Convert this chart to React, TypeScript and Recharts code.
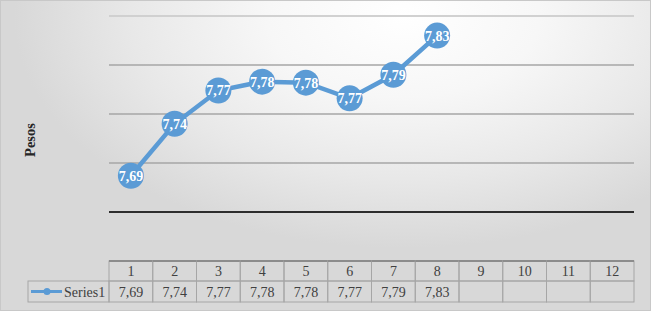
import React from 'react'
import { LineChart, Line, XAxis, YAxis, CartesianGrid, ReferenceLine, LabelList } from 'recharts'

const categories = ['1', '2', '3', '4', '5', '6', '7', '8', '9', '10', '11', '12']
const pesos = [7.687, 7.74, 7.774, 7.783, 7.782, 7.766, 7.79, 7.83]
const yTicks = [7.65, 7.7, 7.75, 7.8, 7.85]
const seriesName = 'Series1'

const BLUE = '#5b9bd5'
const FONT = '"Liberation Serif", "Times New Roman", serif'

const data = categories.map((c, i) => ({ cat: c, value: pesos[i] ?? null }))

const fmt = (v: number) => v.toFixed(2).replace('.', ',')

const PLOT_LEFT = 109
const PLOT_RIGHT = 634
const BAND = (PLOT_RIGHT - PLOT_LEFT) / categories.length
const TABLE_TOP = 261
const ROW_H = 20

function TableTick(props: any) {
  const { x, payload } = props
  const i = categories.indexOf(String(payload.value))
  const v = pesos[i]
  const left = x - BAND / 2
  return (
    <g>
      <rect x={left} y={TABLE_TOP} width={BAND} height={ROW_H} fill="none" stroke="#a6a6a6" />
      <rect x={left} y={TABLE_TOP + ROW_H} width={BAND} height={ROW_H + 1} fill="none" stroke="#a6a6a6" />
      <line x1={left} x2={left + BAND} y1={TABLE_TOP} y2={TABLE_TOP} stroke="#8c8c8c" strokeWidth={2} />
      <text x={x} y={TABLE_TOP + 15} textAnchor="middle" fontFamily={FONT} fontSize={14} fill="#404040">
        {payload.value}
      </text>
      {v !== undefined && (
        <text x={x} y={TABLE_TOP + ROW_H + 16} textAnchor="middle" fontFamily={FONT} fontSize={14} fill="#404040">
          {fmt(v)}
        </text>
      )}
      {i === 0 && (
        <g>
          <rect x={28} y={TABLE_TOP + ROW_H} width={left - 28} height={ROW_H + 1} fill="none" stroke="#a6a6a6" />
          <line x1={31} x2={62} y1={TABLE_TOP + ROW_H + 10.5} y2={TABLE_TOP + ROW_H + 10.5} stroke={BLUE} strokeWidth={3} />
          <circle cx={47} cy={TABLE_TOP + ROW_H + 10.5} r={3.5} fill={BLUE} />
          <text x={64} y={TABLE_TOP + ROW_H + 16} fontFamily={FONT} fontSize={14} fill="#404040">
            {seriesName}
          </text>
        </g>
      )}
    </g>
  )
}

function Marker(props: any) {
  const { cx, cy, value } = props
  if (value == null || cx == null || cy == null) return null
  return <circle cx={cx} cy={cy} r={13} fill={BLUE} />
}

function PointLabel(props: any) {
  const { x, y, width, height, value } = props
  if (value == null) return null
  const cx = x + (width || 0) / 2
  const cy = y + (height || 0) / 2
  return (
    <text
      x={cx}
      y={cy + 5}
      textAnchor="middle"
      fontFamily={FONT}
      fontSize={14}
      fontWeight="bold"
      fill="#ffffff"
    >
      {fmt(Number(value))}
    </text>
  )
}

export default function App() {
  return (
    <div
      style={{
        position: 'absolute',
        left: 0,
        top: 0,
        width: 651,
        height: 311,
        boxSizing: 'border-box',
        border: '1px solid #c8c8c8',
        background:
          'radial-gradient(ellipse 60% 75% at 62% 5%, #ffffff 0%, #f7f7f7 35%, #e8e8e8 70%, #d8d8d8 100%)',
        overflow: 'hidden',
      }}
    >
      <div
        style={{
          position: 'absolute',
          left: 29,
          top: 139,
          transform: 'translate(-50%, -50%) rotate(-90deg)',
          fontFamily: FONT,
          fontSize: 14.5,
          fontWeight: 'bold',
          color: '#262626',
          whiteSpace: 'nowrap',
        }}
      >
        Pesos
      </div>
      <div style={{ position: 'absolute', left: -1, top: -1 }}>
        <LineChart
          width={651}
          height={311}
          data={data}
          margin={{ top: 16, right: 651 - PLOT_RIGHT, left: PLOT_LEFT, bottom: 10 }}
        >
          <CartesianGrid vertical={false} stroke="#a6a6a6" strokeWidth={1.5} />
          <ReferenceLine y={7.85} stroke="#d9d9d9" strokeWidth={1.5} />
          <XAxis
            dataKey="cat"
            scale="band"
            height={89}
            interval={0}
            tickLine={false}
            axisLine={{ stroke: '#000000', strokeWidth: 1.5 }}
            tick={<TableTick />}
          />
          <YAxis hide domain={[7.65, 7.85]} ticks={yTicks} type="number" />
          <Line
            type="linear"
            dataKey="value"
            stroke={BLUE}
            strokeWidth={4.5}
            dot={<Marker />}
            activeDot={false}
            isAnimationActive={false}
            connectNulls={false}
          >
            <LabelList dataKey="value" content={<PointLabel />} />
          </Line>
        </LineChart>
      </div>
    </div>
  )
}
